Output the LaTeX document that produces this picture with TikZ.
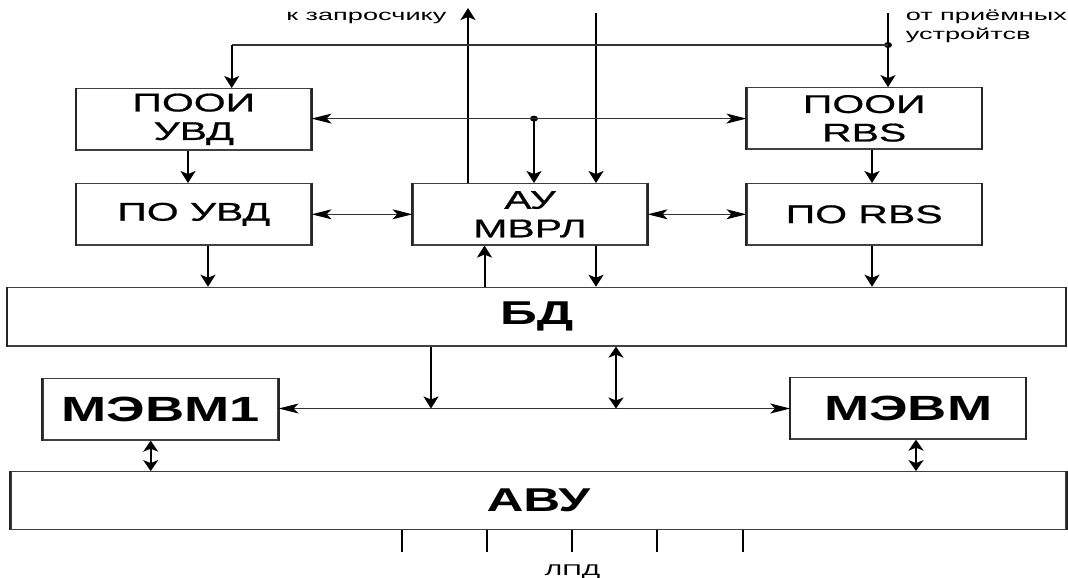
\documentclass[tikz,border=0pt]{standalone}
\usepackage{fontspec}
\setmainfont{Liberation Sans}
\newfontfamily\boxfont[FakeStretch=1.6,FakeBold=0.7]{Liberation Sans}
\newfontfamily\bigfont[FakeStretch=1.55]{Liberation Sans}
\newfontfamily\smallfont[FakeStretch=1.75]{Liberation Sans}
\usetikzlibrary{arrows.meta,calc,shapes.geometric}
\begin{document}
\begin{tikzpicture}[x=1pt,y=-1pt,
  blk/.style={draw=black!75, line width=1.2pt, inner sep=0pt, align=center,
    minimum width=234.4pt, minimum height=61.3pt,
    font=\boxfont\fontsize{25.6}{28.5}\selectfont},
  bigblk/.style={draw=black!75, line width=1.2pt, inner sep=0pt, align=center,
    font=\bigfont\bfseries\fontsize{33}{36}\selectfont},
  vedge/.style={line width=2pt, black!85},
  lbl/.style={inner sep=0pt, font=\smallfont\fontsize{15.5}{18}\selectfont},
  vconn/.style={line width=2pt},
  hconn/.style={line width=1.2pt, black!80},
  vto/.style={-{Stealth[length=12pt,width=15pt,inset=3pt,black]}},
  vboth/.style={{Stealth[length=11pt,width=15pt,inset=3pt,black]}-{Stealth[length=11pt,width=15pt,inset=3pt,black]}},
  hboth/.style={{Stealth[length=20pt,width=10pt,inset=5pt,black]}-{Stealth[length=20pt,width=10pt,inset=5pt,black]}},
  dot/.style={ellipse, fill, inner sep=0pt, minimum width=8pt, minimum height=6pt}]
\fill[white] (0,0) rectangle (1068,578);
\useasboundingbox (0,0) rectangle (1068,578);

% blocks
\node[blk] (pu) at (193.8,119.3) {ПООИ\\УВД};
\node[blk] (pou) at (193.8,214.3) {ПО УВД};
\node[blk, minimum width=234pt] (au) at (530,214.3) {АУ\\МВРЛ};
\node[blk] (pr) at (864.2,118.4) {ПООИ\\RBS};
\node[blk] (por) at (864.2,214.3) {ПО RBS};
\node[bigblk, minimum width=1058pt, minimum height=58.7pt] (bd) at (536.8,316.7) {БД};
\node[bigblk, minimum width=235pt, minimum height=61.7pt,
  font=\bigfont\bfseries\fontsize{35}{38}\selectfont] (m1) at (160.5,409.2) {МЭВМ1};
\node[bigblk, minimum width=234.8pt, minimum height=61.7pt,
  font=\bigfont\bfseries\fontsize{35}{38}\selectfont] (m) at (908.2,408.2) {МЭВМ};
\node[bigblk, minimum width=1055pt, minimum height=57.6pt] (avu) at (538.4,500.5) {АВУ};
\foreach \n in {pu,pou,au,pr,por,bd,m1,m,avu}{
  \draw[vedge] (\n.north west) -- (\n.south west) (\n.north east) -- (\n.south east);
}

% labels
\node[lbl, anchor=base east] (lz) at (446.6,21) {к запросчику};
\node[lbl, anchor=base west] (lr1) at (905.6,21) {от приёмных};
\node[lbl, anchor=base west] (lr2) at (905.6,39.5) {устройтсв};
\node[lbl, anchor=base] (lpd) at (572.5,575) {ЛПД};

% helper coordinates
\coordinate (xa) at (188,0);
\coordinate (xb) at (872,0);
\coordinate (xc) at (208,0);
\coordinate (xd) at (484.5,0);
\coordinate (xe) at (596,0);
\coordinate (t1) at (596,13);
\coordinate (t2) at (468,8);
\coordinate (t3) at (888,13);
\coordinate (c1) at (231.7,45);
\coordinate (yh) at (0,118.6);
\coordinate (j1) at (431,408.5);
\coordinate (xf) at (616,408.5);
\coordinate (xg) at (150.7,0);
\coordinate (xh) at (916,0);

\node[dot] (d1) at (888,45) {};
\node[dot] (d2) at (534,118.6) {};

% connectors
\draw[vconn,vto] (pu.south -| xa) -- (pou.north -| xa);
\draw[vconn,vto] (pr.south -| xb) -- (por.north -| xb);
\draw[hconn,hboth] (pou.east) -- (au.west);
\draw[hconn,hboth] (au.east) -- (por.west);
\draw[vconn,vto] (pou.south -| xc) -- (bd.north -| xc);
\draw[vconn,vto] (bd.north -| xd) -- (au.south -| xd);
\draw[vconn,vto] (au.south -| xe) -- (bd.north -| xe);
\draw[vconn,vto] (por.south -| xb) -- (bd.north -| xb);
\draw[vconn,vto] (t1) -- (au.north -| t1);
\draw[vconn,vto] (au.north -| t2) -- (t2);
\draw[vconn,vto] (t3) -- (pr.north -| t3);
\draw[hconn] (d1.center) -- (c1);
\draw[vconn,vto] (c1) -- (pu.north -| c1);
\draw[hconn,hboth] (pu.east |- yh) -- (pr.west |- yh);
\draw[vconn,vto] (d2.center) -- (au.north -| d2);
\draw[vconn,vto] (bd.south -| j1) -- (j1);
\draw[hconn,hboth] (m1.east |- j1) -- (m.west |- j1);
\draw[vconn,vboth] (bd.south -| xf) -- (xf);
\draw[vconn,vboth] (m1.south -| xg) -- (avu.north -| xg);
\draw[vconn,vboth] (m.south -| xh) -- (avu.north -| xh);
\foreach \i/\x in {1/402.4,2/487.2,3/572,4/657.3,5/742.8}{
  \coordinate (tk\i) at (\x,551.7);
  \draw[vconn] (avu.south -| tk\i) -- (tk\i);
}
\end{tikzpicture}
\end{document}
